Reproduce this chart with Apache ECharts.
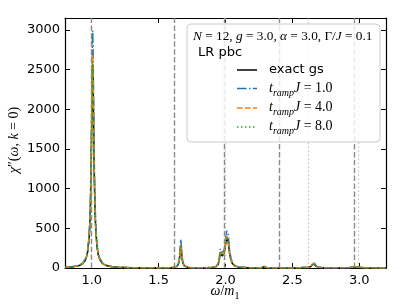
<!DOCTYPE html>
<html><head><meta charset="utf-8">
<script src="https://cdn.jsdelivr.net/npm/echarts@6/dist/echarts.min.js"></script>
<style>html,body{margin:0;padding:0;background:#fff}#c{width:407px;height:305px}</style>
</head><body><div id="c"></div>
<script>
// omega / m1 sample positions
const omega = [
0.80,0.85,0.90,0.93,0.95,0.96,0.97,0.98,0.985,0.99,0.995,1.000,1.005,1.007,1.010,1.015,1.020,1.025,1.030,1.040,1.050,1.060,1.080,1.100,1.150,1.200,1.300,1.400,1.500,1.550,1.600,
1.620,1.630,1.640,1.650,1.655,1.660,1.666,1.670,1.675,1.680,1.690,1.700,1.720,1.750,1.800,1.850,
1.900,1.930,1.945,1.950,1.955,1.960,1.965,1.970,1.975,1.980,1.985,1.990,1.995,2.000,2.005,2.010,2.015,2.020,2.025,2.030,2.040,2.050,2.070,2.100,2.150,2.200,
2.250,2.270,2.280,2.290,2.300,2.310,2.330,2.400,2.500,2.560,2.575,2.585,2.595,2.610,
2.625,2.640,2.650,2.658,2.665,2.675,2.690,2.720,2.780,2.850,2.900,2.930,2.945,2.955,2.970,2.980,2.990,3.000,3.020,3.060,3.120,3.200];

const exactGs = [
7.2,12.5,27,51,92,133,208,365,512,755,1169,1822,2478,2560,2383,1674,1068,696,476,256,157,106,57,35,15,8.3,3.6,2,1.7,2.5,4.8,
8.5,13.6,25,58,100,186,290,232,128,71,29,15,6.5,2.8,1.7,2.1,
7,18,44,68,120,192,200,172,152,148,156,184,232,288,344,376,380,336,264,192,104,60,26,11,5,3.2,
2,3,6,16,6,3,2,1.3,1.3,2.5,5,9,6,5,
8,21,42,55,48,25,10,4,2,1.6,2.5,4.5,11,9,8,10,14,9,4,2,1.3,1];

const ramp1 = [
8.4,14.6,31,60,107,155,243,426,598,882,1365,2128,2894,2990,2784,1955,1247,813,556,299,184,123,66,41,18,10,4.2,2.5,2,3,6,
11,17,31,72,125,230,360,288,159,89,36,19,8,3.5,2,2.5,
9,22,55,85,150,240,250,215,190,185,195,230,290,360,430,470,475,420,330,240,130,75,32,14,6,4,
2.5,4,9,24,9,4,2.5,1.5,1.5,2.5,5,8,6,6,
10,28,55,75,62,32,13,5,2.5,2,3,6,14,12,10,14,19,12,5,2.5,1.5,1.2];

const ramp4 = [
7.6,13,28,54,97,140,219,383,538,794,1228,1914,2604,2690,2504,1759,1122,732,500,269,165,111,60,37,16,9,3.8,2.2,1.8,2.6,5,
9,14,26,60,104,192,300,240,132,74,30,16,7,3,1.8,2.2,
8,19,47,72,128,204,212,183,162,157,166,196,247,307,366,400,405,358,281,204,111,64,27,12,5,3.4,
2.2,4,8,20,8,3.5,2.2,1.4,1.4,2.5,6,10,6,5,
9,24,47,62,55,28,11,4.5,2.3,1.8,2.8,5,12,10,9,12,16,10,4.5,2.3,1.4,1.1];

const ramp8 = [
7.3,12.7,27,52,93,135,211,370,520,767,1187,1850,2517,2600,2421,1700,1084,707,484,260,160,107,58,36,15,8.5,3.7,2.1,1.8,2.6,5,
9,14,25,59,102,189,295,236,130,73,30,16,7,3,1.8,2.2,
7.5,18,46,70,125,199,207,178,158,153,162,191,241,299,357,390,394,349,274,199,108,62,27,12,5,3.3,
2.2,3.5,7,18,7,3.5,2.2,1.4,1.4,3,7,12,7,5,
9,23,45,58,52,27,11,4.5,2.3,1.8,2.8,5,12,10,8,11,15,10,4.5,2.3,1.4,1.1];

const dashedLines = [1.0, 1.618, 1.989, 2.405, 2.956];
const dottedLines = [2.0, 2.618, 2.989];
const xTicks = [1.0, 1.5, 2.0, 2.5, 3.0];
const yTicks = [0, 500, 1000, 1500, 2000, 2500, 3000];
const seriesNames = ['exact gs', '1.0', '4.0', '8.0'];

const chart = echarts.init(document.getElementById('c'), null, {renderer: 'canvas'});
const pair = ys => omega.map((x, i) => [x, ys[i]]);
const serif = 'Liberation Serif';
const sans = 'DejaVu Sans';
const X0 = 0.8, X1 = 3.2, Y0 = 0, Y1 = 3150;

function xAx(pos, lab) {
  return {type: 'value', min: X0, max: X1, position: pos,
    axisLine: {onZero: false, lineStyle: {color: '#000', width: 1.2}},
    axisTick: {inside: true, length: 5, customValues: xTicks, lineStyle: {color: '#000', width: 1}},
    axisLabel: lab ? {customValues: xTicks, formatter: v => v.toFixed(1), margin: 6, color: '#000', fontSize: 13, fontFamily: sans} : {show: false},
    splitLine: {show: false}};
}
function yAx(pos, lab) {
  return {type: 'value', min: Y0, max: Y1, position: pos,
    axisLine: {onZero: false, lineStyle: {color: '#000', width: 1.2}},
    axisTick: {inside: true, length: 5, customValues: yTicks, lineStyle: {color: '#000', width: 1}},
    axisLabel: lab ? {customValues: yTicks, formatter: v => String(v), margin: 5, color: '#000', fontSize: 13, fontFamily: sans} : {show: false},
    splitLine: {show: false}};
}

const richMath = (fs) => ({
  i: {fontFamily: serif, fontStyle: 'italic', fontSize: fs, color: '#000', padding: [0,0,3,0], verticalAlign: 'bottom'},
  n: {fontFamily: serif, fontSize: fs, color: '#000', padding: [0,0,3,0], verticalAlign: 'bottom'},
  s: {fontFamily: serif, fontStyle: 'italic', fontSize: Math.round(fs*0.7), color: '#000', verticalAlign: 'bottom'},
  su: {fontFamily: serif, fontSize: Math.round(fs*0.7), color: '#000', verticalAlign: 'bottom'}
});

const legendRows = [
  {y: 70, color: '#000', dash: null},
  {y: 88.5, color: '#1f77b4', dash: [9.6, 2.4, 1.5, 2.4]},
  {y: 108, color: '#ff7f0e', dash: [5.55, 2.4]},
  {y: 127, color: '#2ca02c', dash: [1.5, 2.5]}
];
const graphics = [
  {type: 'rect', shape: {x: 187, y: 24, width: 193, height: 118, r: 4}, style: {fill: 'rgba(255,255,255,0.8)', stroke: '#cccccc', lineWidth: 1}, z: 100},
  {type: 'text', x: 193, y: 38, z: 101, style: {text: '{i|N}{n| = 12, }{i|g}{n| = 3.0, }{i|α}{n| = 3.0, Γ/}{i|J}{n| = 0.1}', rich: richMath(13.3), verticalAlign: 'middle'}},
  {type: 'text', x: 198, y: 53, z: 101, style: {text: 'LR pbc', font: '13px "DejaVu Sans"', fill: '#000', verticalAlign: 'middle'}},
  {type: 'text', x: 269, y: 70, z: 101, style: {text: seriesNames[0], font: '13px "DejaVu Sans"', fill: '#000', verticalAlign: 'middle'}}
];
legendRows.forEach((r, k) => {
  graphics.push({type: 'line', z: 101, shape: {x1: 237, y1: r.y, x2: 257, y2: r.y},
    style: {stroke: r.color, lineWidth: 1.5, lineDash: r.dash}});
  if (k > 0) graphics.push({type: 'text', x: 269, y: r.y + 1, z: 101,
    style: {text: '{i|t}{s|ramp}{i|J}{n| = ' + seriesNames[k] + '}', rich: richMath(14), verticalAlign: 'middle'}});
});
graphics.push({type: 'text', x: 16, y: 140, rotation: Math.PI/2, z: 101,
  style: {text: '{i|χ}{n|″(}{i|ω}{n|, }{i|k}{n| = 0)}', rich: richMath(14), align: 'center', verticalAlign: 'middle'}});
graphics.push({type: 'text', x: 225, y: 293, z: 101,
  style: {text: '{i|ω}{n|/}{i|m}{su|1}', rich: richMath(14), align: 'center', verticalAlign: 'middle'}});

const curve = (name, ys, color, dash, z) => ({
  name, type: 'line', data: pair(ys), xAxisIndex: 0, yAxisIndex: 0, showSymbol: false, symbol: 'none',
  lineStyle: {color, width: 1.5, type: dash || 'solid'}, z, animation: false, clip: true
});

chart.setOption({
  animation: false,
  grid: {left: 65, top: 18, width: 321, height: 250, containLabel: false},
  xAxis: [xAx('bottom', true), xAx('top', false)],
  yAxis: [yAx('left', true), yAx('right', false)],
  graphic: graphics,
  series: [
    {type: 'line', data: [], xAxisIndex: 0, yAxisIndex: 0, z: 1, markLine: {silent: true, symbol: ['none', 'none'], label: {show: false}, animation: false,
      data: dashedLines.map(v => ({xAxis: v, lineStyle: {type: [5.5, 2.4], color: '#8a8a8a', width: 1.4}}))
        .concat(dottedLines.map(v => ({xAxis: v, lineStyle: {type: [1.5, 2.5], color: '#c4c4c4', width: 1.2}})))}},
    curve('exact gs', exactGs, '#000000', null, 3),
    curve('t1', ramp1, '#1f77b4', [9.6, 2.4, 1.5, 2.4], 4),
    curve('t4', ramp4, '#ff7f0e', [5.55, 2.4], 5),
    curve('t8', ramp8, '#2ca02c', [1.5, 2.5], 6)
  ]
});
</script></body></html>
